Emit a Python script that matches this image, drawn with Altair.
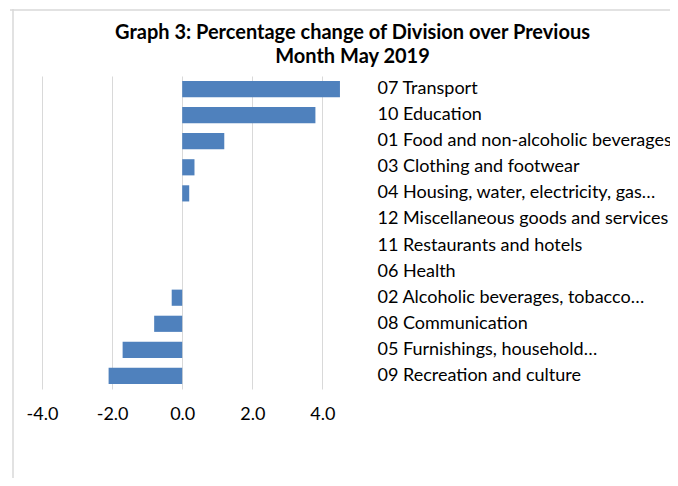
import altair as alt
import pandas as pd

categories = [
    "07 Transport",
    "10 Education",
    "01 Food and non-alcoholic beverages",
    "03 Clothing and footwear",
    "04 Housing, water, electricity, gas…",
    "12 Miscellaneous goods and services",
    "11 Restaurants and hotels",
    "06 Health",
    "02 Alcoholic beverages, tobacco…",
    "08 Communication",
    "05 Furnishings, household…",
    "09 Recreation and culture",
]
values = [4.5, 3.8, 1.2, 0.35, 0.2, 0.0, 0.0, 0.0, -0.3, -0.8, -1.7, -2.1]
x_ticks = [-4, -2, 0, 2, 4]

df = pd.DataFrame({"division": categories, "change": values})

FONT = "Lato"

bars = alt.Chart(df).mark_bar(color="#4f81bd").encode(
    x=alt.X(
        "change:Q",
        scale=alt.Scale(domain=[-4, 5.5], nice=False, zero=False),
        axis=alt.Axis(
            values=x_ticks,
            format=".1f",
            labelExpr="replace(datum.label, '\u2212', '-')",
            labelFlush=False,
            title=None,
            grid=True,
            gridColor="#d9d9d9",
            domain=False,
            ticks=False,
            labelPadding=16,
            labelFontSize=18,
            labelFont=FONT,
            labelColor="#000000",
        ),
    ),
    y=alt.Y(
        "division:N",
        sort=categories,
        scale=alt.Scale(paddingInner=0.38, paddingOuter=0.19),
        axis=alt.Axis(
            orient="right",
            title=None,
            domain=False,
            ticks=False,
            grid=False,
            labelAlign="left",
            labelPadding=2,
            labelFontSize=18,
            labelFont=FONT,
            labelColor="#000000",
            labelLimit=0,
        ),
    ),
)

frame_data = alt.Data(values=[{"a": 1}])
top_line = alt.Chart(frame_data).mark_rule(color="#d9d9d9", strokeWidth=1.5).encode(
    x=alt.value(-32), x2=alt.value(700), y=alt.value(-66)
)
left_line = alt.Chart(frame_data).mark_rule(color="#d9d9d9", strokeWidth=1.5).encode(
    x=alt.value(-29), y=alt.value(-67), y2=alt.value(500)
)

chart = alt.layer(top_line, left_line, bars).properties(
    width=333,
    height=313,
    background="white",
    title=alt.TitleParams(
        text=["Graph 3: Percentage change of Division over Previous", "Month May 2019"],
        anchor="middle",
        frame="group",
        dx=144,
        dy=59,
        offset=0,
        font=FONT,
        fontSize=20,
        fontWeight="bold",
        color="#000000",
        lineHeight=24.5,
    ),
    autosize=alt.AutoSizeParams(type="none"),
    padding={"left": 34, "top": 68, "right": 295, "bottom": 89},
).configure_view(stroke=None)

chart.save("out.html", embed_options={"renderer": "svg", "actions": False})
